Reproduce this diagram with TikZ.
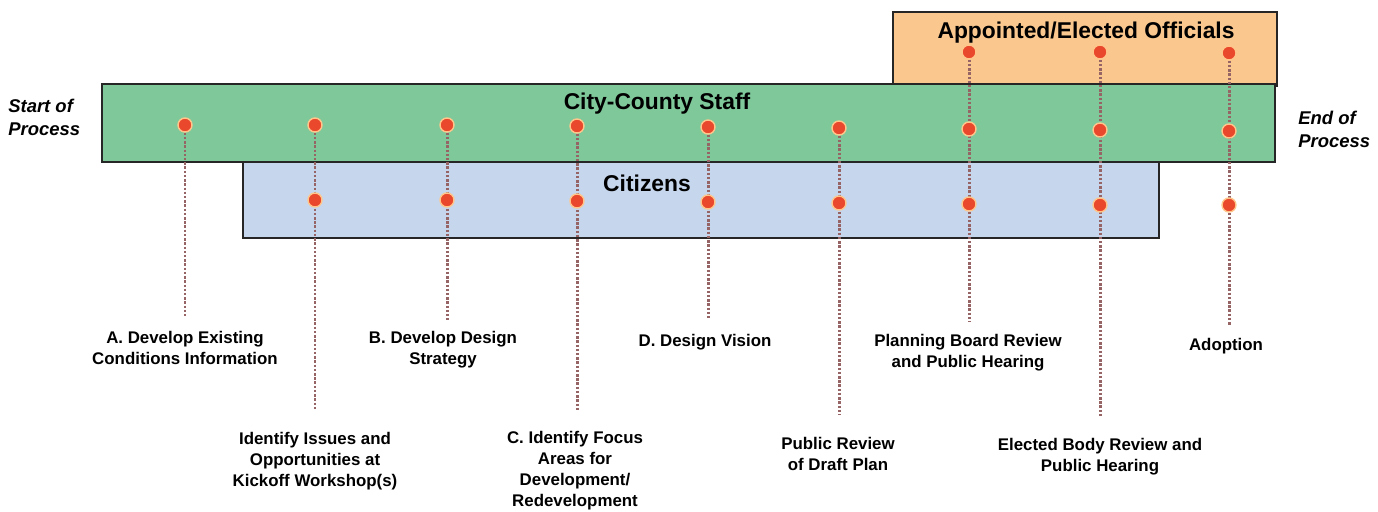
\documentclass[tikz,border=0pt]{standalone}
\usepackage{fontspec}
\setmainfont{Liberation Sans}
\pgfdeclarelayer{bg}
\pgfsetlayers{bg,main}
\definecolor{offorange}{RGB}{250,200,142}
\definecolor{staffgreen}{RGB}{126,200,154}
\definecolor{citblue}{RGB}{198,214,236}
\definecolor{dotred}{RGB}{234,72,44}
\definecolor{stemgray}{RGB}{150,100,100}
\tikzset{
	band/.style={draw=black!85, line width=0.8pt},
	dot/.style={circle, fill=dotred, draw=orange!45, line width=0.8pt, inner sep=0pt, minimum size=0.28cm},
	stem/.style={stemgray, line width=1.7pt, dash pattern=on 1.4pt off 1pt},
	tag/.style={font=\bfseries\fontsize{9.6}{12}\selectfont, align=center, inner sep=0pt},
	title/.style={font=\bfseries\fontsize{13}{15}\selectfont, inner sep=0pt},
	side/.style={font=\bfseries\itshape\fontsize{10.5}{13}\selectfont, align=left, inner sep=0pt, anchor=west}
}
\begin{document}
\begin{tikzpicture}[x=0.02cm,y=-0.02cm]
			\useasboundingbox (0,0) rectangle (1378,511);
			% stage dots
			\node [dot] (s1) at (185,125) {};
			\node [dot] (s2) at (315,125) {};
			\node [dot] (c2) at (315,200) {};
			\node [dot] (s3) at (447,125) {};
			\node [dot] (c3) at (447,200) {};
			\node [dot] (s4) at (577,126) {};
			\node [dot] (c4) at (577,201) {};
			\node [dot] (s5) at (708,127) {};
			\node [dot] (c5) at (708,202) {};
			\node [dot] (s6) at (839,128) {};
			\node [dot] (c6) at (839,203) {};
			\node [dot] (o7) at (969,52) {};
			\node [dot] (s7) at (969,129) {};
			\node [dot] (c7) at (969,204) {};
			\node [dot] (o8) at (1100,52) {};
			\node [dot] (s8) at (1100,130) {};
			\node [dot] (c8) at (1100,205) {};
			\node [dot] (o9) at (1229,53) {};
			\node [dot] (s9) at (1229,131) {};
			\node [dot] (c9) at (1229,205) {};
			% stem ends
			\coordinate (e1) at (185,318);
			\coordinate (e2) at (315,410);
			\coordinate (e3) at (447,320);
			\coordinate (e4) at (577,412);
			\coordinate (e5) at (708,320);
			\coordinate (e6) at (839,415);
			\coordinate (e7) at (969,322);
			\coordinate (e8) at (1100,418);
			\coordinate (e9) at (1229,326);
			\begin{pgfonlayer}{bg}
				\draw [band,fill=offorange] (893,12) rectangle (1277,86);
				\draw [band,fill=staffgreen] (102,84) rectangle (1275,162);
				\draw [band,fill=citblue] (243,162) rectangle (1159,238);
				\draw [stem] (s1)--(e1);
				\draw [stem] (s2)--(e2);
				\draw [stem] (s3)--(e3);
				\draw [stem] (s4)--(e4);
				\draw [stem] (s5)--(e5);
				\draw [stem] (s6)--(e6);
				\draw [stem] (o7)--(e7);
				\draw [stem] (o8)--(e8);
				\draw [stem] (o9)--(e9);
			\end{pgfonlayer}
			% group names
			\node [title] (officials) at (1086,33) {Appointed/Elected Officials};
			\node [title] (staff) at (657,104) {City-County Staff};
			\node [title] (citizens) at (647,183) {Citizens};
			\node [side] (start) at (8,117) {Start of\\Process};
			\node [side] (finish) at (1298,129) {End of\\Process};
			% stage names
			\node [tag] (l1) at (185,348) {A. Develop Existing\\Conditions Information};
			\node [tag] (l2) at (315,461) {Identify Issues and\\Opportunities at\\Kickoff Workshop(s)};
			\node [tag] (l3) at (443,350) {B. Develop Design\\Strategy};
			\node [tag] (l4) at (575,471) {C. Identify Focus\\Areas for\\Development/\\Redevelopment};
			\node [tag] (l5) at (705,342) {D. Design Vision};
			\node [tag] (l6) at (838,454) {Public Review\\of Draft Plan};
			\node [tag] (l7) at (968,353) {Planning Board Review\\and Public Hearing};
			\node [tag] (l8) at (1100,457) {Elected Body Review and\\Public Hearing};
			\node [tag] (l9) at (1226,346) {Adoption};
		\end{tikzpicture}
\end{document}
